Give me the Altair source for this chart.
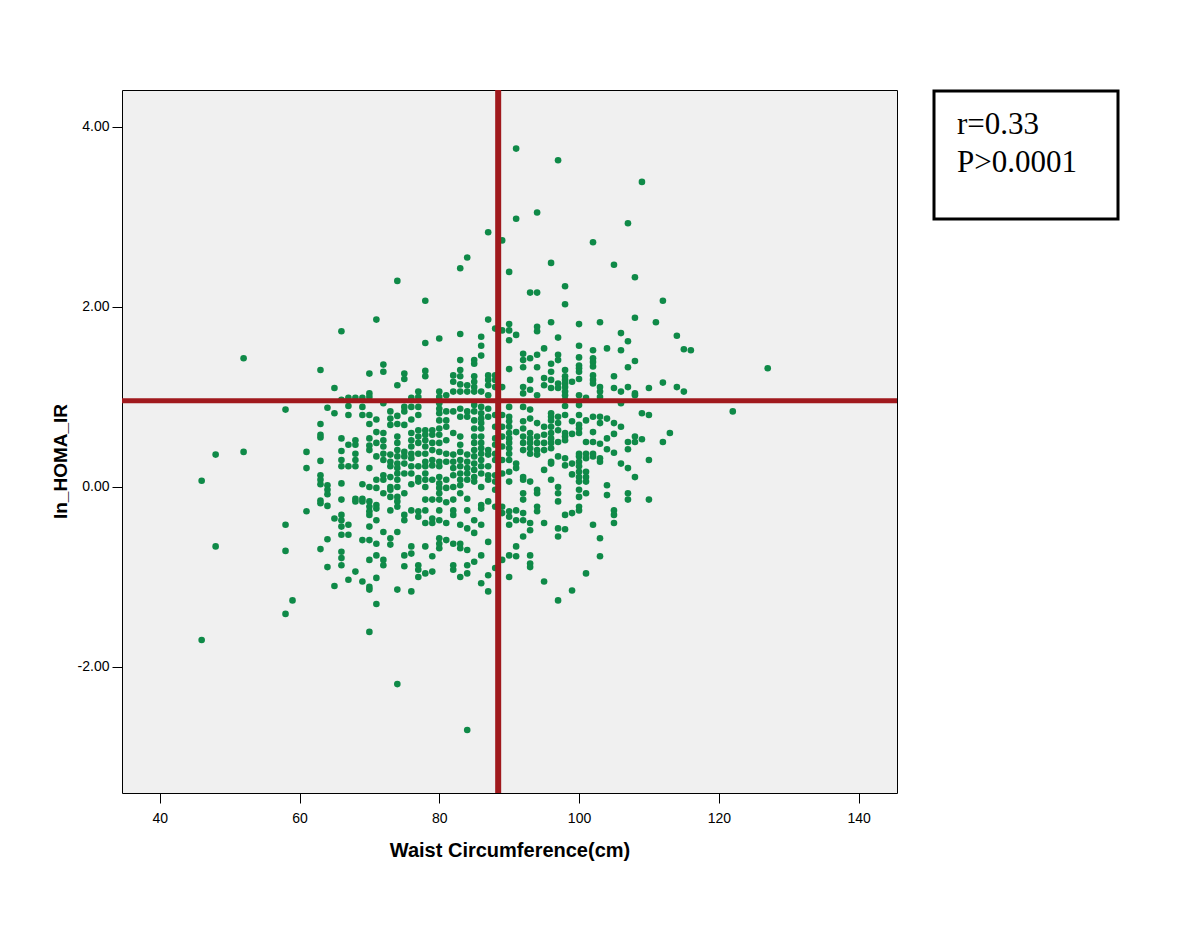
import altair as alt
import pandas as pd

# ---- data: ln_HOMA_IR values read per waist-circumference column (cm) ----
Y46 = [0.07, -1.70]
Y48 = [0.36, -0.66]
Y52 = [1.43, 0.39]
Y58 = [0.86, -0.42, -0.71, -1.41]
Y59 = [-1.26]
Y61 = [0.39, 0.21, -0.27]
Y63 = [1.30, 0.70, 0.58, 0.55, 0.29, 0.13, 0.08, 0.03, -0.15, -0.18, -0.69]
Y64 = [0.88, 0.02, -0.03, -0.08, -0.21, -0.58, -0.89]
Y65 = [1.10, 0.82, -0.35, -1.10]
Y66 = [1.73, 0.97, 0.54, 0.40, 0.30, 0.23, 0.04, -0.14, -0.31, -0.37, -0.44, -0.53, -0.72, -0.79, -0.87]
Y67 = [0.99, 0.90, 0.80, 0.47, 0.23, -0.42, -0.53, -1.03]
Y68 = [0.99, 0.52, 0.47, 0.37, 0.30, 0.23, -0.13, -0.16, -0.94]
Y69 = [0.99, 0.89, 0.80, 0.03, -0.13, -0.16, -0.59, -1.05]
Y70 = [1.26, 1.04, 1.00, 0.80, 0.70, 0.54, 0.46, 0.41, 0.21, 0.00, -0.16, -0.22, -0.27, -0.31, -0.44, -0.59, -0.81, -1.11, -1.14, -1.61]
Y71 = [1.86, 0.75, 0.61, 0.49, 0.34, 0.08, -0.01, -0.20, -0.24, -0.37, -0.63, -0.76, -1.01, -1.30]
Y72 = [1.36, 1.28, 0.93, 0.60, 0.52, 0.45, 0.37, 0.30, 0.13, 0.08, -0.07, -0.50, -0.81, -0.87]
Y73 = [0.84, 0.76, 0.69, 0.36, 0.28, 0.23, 0.11, 0.00, -0.03, -0.11, -0.26, -0.57, -0.64]
Y74 = [2.29, 1.13, 0.79, 0.70, 0.56, 0.49, 0.41, 0.34, 0.26, 0.21, 0.15, 0.08, 0.00, -0.11, -0.16, -0.22, -0.50, -1.14, -2.19]
Y75 = [1.26, 1.20, 0.89, 0.84, 0.69, 0.39, 0.34, 0.26, 0.15, -0.07, -0.31, -0.37, -0.76, -0.88]
Y76 = [0.99, 0.89, 0.75, 0.60, 0.52, 0.45, 0.37, 0.32, 0.23, 0.15, 0.03, -0.26, -0.66, -0.74, -1.16]
Y77 = [1.06, 1.00, 0.89, 0.80, 0.63, 0.56, 0.49, 0.37, 0.23, 0.10, 0.06, -0.27, -0.33, -0.87, -0.92, -1.00]
Y78 = [2.07, 1.60, 1.29, 1.23, 0.63, 0.58, 0.52, 0.45, 0.37, 0.28, 0.23, 0.15, 0.08, 0.00, -0.14, -0.26, -0.40, -0.66, -0.96]
Y79 = [0.63, 0.58, 0.49, 0.41, 0.30, 0.24, 0.08, -0.14, -0.35, -0.40, -0.77, -0.94]
Y80 = [1.65, 1.06, 1.00, 0.93, 0.87, 0.82, 0.74, 0.65, 0.58, 0.49, 0.39, 0.28, 0.23, 0.11, 0.04, -0.01, -0.07, -0.14, -0.26, -0.37, -0.57, -0.63, -0.68]
Y81 = [1.02, 0.84, 0.74, 0.67, 0.52, 0.37, 0.28, 0.08, -0.01, -0.17, -0.40, -0.59]
Y82 = [1.24, 1.17, 1.06, 0.84, 0.60, 0.36, 0.28, 0.21, 0.13, 0.00, -0.14, -0.26, -0.31, -0.63, -0.87, -0.92]
Y83 = [2.43, 1.70, 1.41, 1.30, 1.23, 1.14, 1.06, 0.87, 0.78, 0.56, 0.47, 0.39, 0.30, 0.23, 0.15, 0.08, 0.02, -0.07, -0.42, -0.63, -0.68, -1.00]
Y84 = [2.55, 1.13, 1.06, 0.84, 0.78, 0.36, 0.28, 0.21, 0.15, 0.08, -0.13, -0.26, -0.46, -0.70, -0.87, -0.96, -2.70]
Y85 = [1.41, 1.37, 1.23, 1.17, 1.11, 1.06, 0.91, 0.84, 0.74, 0.65, 0.56, 0.49, 0.41, 0.34, 0.26, 0.19, 0.11, 0.06, -0.37, -0.51, -0.83]
Y86 = [1.67, 1.57, 1.46, 1.06, 0.89, 0.82, 0.76, 0.71, 0.65, 0.56, 0.49, 0.43, 0.37, 0.30, 0.23, 0.15, 0.00, -0.20, -0.24, -0.42, -0.76, -1.07]
Y87 = [2.83, 1.86, 1.24, 1.19, 1.13, 1.02, 0.87, 0.78, 0.41, 0.36, 0.23, 0.13, 0.08, -0.16, -0.61, -0.98, -1.16]
Y88 = [1.76, 1.24, 1.19, 1.11, 0.80, 0.67, 0.54, 0.47, 0.37, 0.30, 0.13, 0.06, -0.03, -0.22, -0.90]
Y89 = [2.74, 1.74, 1.11, 0.80, 0.67, 0.56, 0.45, 0.30, 0.15, -0.22, -0.29, -0.81]
Y90 = [2.39, 1.81, 1.74, 1.63, 1.31, 0.89, 0.78, 0.73, 0.67, 0.60, 0.54, 0.49, 0.43, 0.37, 0.30, 0.17, 0.06, -0.27, -0.33, -0.42, -0.76, -1.00]
Y91 = [3.76, 2.98, 1.69, 0.61, 0.26, 0.21, -0.26, -0.37, -0.66, -0.77]
Y92 = [1.48, 1.41, 1.33, 1.11, 1.04, 0.89, 0.73, 0.65, 0.56, 0.49, 0.41, 0.11, 0.08, -0.07, -0.14, -0.29, -0.37, -0.55]
Y93 = [2.16, 1.43, 1.19, 1.08, 0.86, 0.76, 0.60, 0.54, 0.49, 0.43, 0.37, 0.06, -0.40, -0.48, -0.76, -0.85, -0.89]
Y94 = [3.05, 2.16, 1.78, 1.73, 1.47, 1.33, 1.02, 0.71, 0.56, 0.49, 0.41, 0.36, -0.03, -0.07, -0.22, -0.27]
Y95 = [1.54, 1.21, 1.13, 0.67, 0.58, 0.49, 0.41, 0.19, -0.40, -1.05]
Y96 = [2.49, 1.83, 1.37, 1.28, 1.19, 1.10, 0.82, 0.78, 0.74, 0.67, 0.60, 0.54, 0.49, 0.43, 0.28, 0.26, 0.08]
Y97 = [3.63, 1.66, 1.47, 1.41, 1.15, 1.10, 0.78, 0.71, 0.63, 0.50, 0.34, 0.00, -0.07, -0.16, -0.46, -0.55, -1.26]
Y98 = [2.23, 2.03, 1.30, 1.23, 1.19, 1.15, 1.11, 1.06, 1.02, 0.97, 0.90, 0.80, 0.60, 0.56, 0.52, 0.32, 0.24, -0.31, -0.47]
Y99 = [1.17, 0.73, 0.59, 0.26, 0.14, -0.29, -1.15]
Y100 = [1.81, 1.57, 1.44, 1.35, 1.32, 1.28, 1.20, 1.02, 0.91, 0.80, 0.69, 0.65, 0.60, 0.37, 0.34, 0.28, 0.23, 0.17, 0.11, 0.06, -0.03, -0.11, -0.22, -0.26]
Y101 = [0.99, 0.74, 0.50, 0.37, 0.32, 0.17, 0.11, 0.06, -0.07, -0.96]
Y102 = [2.72, 1.52, 1.43, 1.39, 1.34, 1.24, 1.19, 1.15, 0.78, 0.61, 0.50, 0.37, 0.34, -0.42]
Y103 = [1.83, 1.11, 1.06, 1.00, 0.78, 0.71, 0.48, 0.32, 0.28, -0.57, -0.77]
Y104 = [1.54, 0.76, 0.54, 0.42, 0.02, -0.09]
Y105 = [2.47, 1.23, 1.10, 0.71, 0.59, 0.38, -0.26, -0.31, -0.40]
Y106 = [1.71, 1.52, 1.06, 0.93, 0.67, 0.26]
Y107 = [2.93, 1.62, 1.33, 1.11, 0.50, 0.42, 0.21, -0.07, -0.14]
Y108 = [2.33, 1.88, 1.40, 1.04, 1.02, 0.56, 0.50, 0.11]
Y109 = [3.39, 0.82, 0.53]
Y110 = [1.10, 0.80, 0.30, -0.14]
Y111 = [1.83]
Y112 = [2.07, 1.16, 0.50]
Y113 = [0.60]
Y114 = [1.68, 1.11]
Y115 = [1.53, 1.06]
Y116 = [1.52]
Y122 = [0.84]
Y127 = [1.32]

WAIST_COLUMNS = [
    (46, Y46), (48, Y48), (52, Y52), (58, Y58), (59, Y59), (61, Y61), (63, Y63),
    (64, Y64), (65, Y65), (66, Y66), (67, Y67), (68, Y68), (69, Y69), (70, Y70),
    (71, Y71), (72, Y72), (73, Y73), (74, Y74), (75, Y75), (76, Y76), (77, Y77),
    (78, Y78), (79, Y79), (80, Y80), (81, Y81), (82, Y82), (83, Y83), (84, Y84),
    (85, Y85), (86, Y86), (87, Y87), (88, Y88), (89, Y89), (90, Y90), (91, Y91),
    (92, Y92), (93, Y93), (94, Y94), (95, Y95), (96, Y96), (97, Y97), (98, Y98),
    (99, Y99), (100, Y100), (101, Y101), (102, Y102), (103, Y103), (104, Y104),
    (105, Y105), (106, Y106), (107, Y107), (108, Y108), (109, Y109), (110, Y110),
    (111, Y111), (112, Y112), (113, Y113), (114, Y114), (115, Y115), (116, Y116),
    (122, Y122), (127, Y127),
]

MEAN_WAIST = [88.43]
MEAN_LN_HOMA = [0.959]
X_TICKS = [40, 60, 80, 100, 120, 140]
Y_TICKS = [-2, 0, 2, 4]
STATS_LINES = ["r=0.33", "P>0.0001"]

rows = [{"waist": w, "ln_homa": v} for w, vals in WAIST_COLUMNS for v in vals]
df = pd.DataFrame(rows)

SANS = "Liberation Sans"
GREEN = "#0f8a48"
RED = "#a0191d"

x_scale = alt.Scale(domain=[34.6, 145.5], nice=False, zero=False)
y_scale = alt.Scale(domain=[-3.4, 4.411], nice=False, zero=False)

points = alt.Chart(df).mark_circle(size=44, color=GREEN, opacity=1).encode(
    x=alt.X(
        "waist:Q",
        scale=x_scale,
        axis=alt.Axis(
            values=X_TICKS, format="d", grid=False, domain=False,
            tickColor="black", tickSize=10, labelFontSize=14, labelFont=SANS,
            labelColor="black", labelPadding=8,
            title="Waist Circumference(cm)", titleFont=SANS, titleFontSize=20,
            titleFontWeight="bold", titleColor="black",
            titleY=57, titleBaseline="middle",
        ),
    ),
    y=alt.Y(
        "ln_homa:Q",
        scale=y_scale,
        axis=alt.Axis(
            values=Y_TICKS, grid=False, domain=False,
            labelExpr="datum.value < 0 ? '-' + format(-datum.value, '.2f') : format(datum.value, '.2f')",
            tickColor="black", tickSize=10, labelFontSize=14, labelFont=SANS,
            labelColor="black", labelPadding=3,
            title="ln_HOMA_IR", titleFont=SANS, titleFontSize=19,
            titleFontWeight="bold", titleColor="black",
            titleAngle=270, titleX=-62, titleY=371,
            titleAlign="center", titleBaseline="middle",
        ),
    ),
)

vline = alt.Chart(pd.DataFrame({"w": MEAN_WAIST})).mark_rule(
    color=RED, strokeWidth=6
).encode(x=alt.X("w:Q", scale=x_scale))

hline = alt.Chart(pd.DataFrame({"h": MEAN_LN_HOMA})).mark_rule(
    color=RED, strokeWidth=5
).encode(y=alt.Y("h:Q", scale=y_scale))

ann_df = pd.DataFrame({"label": ["\n".join(STATS_LINES)]})

box = alt.Chart(ann_df).mark_rect(
    fill="white", stroke="black", strokeWidth=3
).encode(
    x=alt.value(812), x2=alt.value(996), y=alt.value(1), y2=alt.value(129)
)

stats = alt.Chart(ann_df).mark_text(
    align="left", baseline="alphabetic", font="Liberation Serif",
    fontSize=31, color="black", lineBreak="\n", lineHeight=38
).encode(
    x=alt.value(835), y=alt.value(44), text="label:N"
)

chart = alt.layer(points, vline, hline, box, stats).properties(
    width=775, height=703,
    autosize=alt.AutoSizeParams(type="none"),
    padding={"left": 114, "top": 82, "right": 260, "bottom": 110},
    background="white",
).configure_view(
    fill="#f0f0f0", stroke="black", strokeWidth=1
)

chart.save("out.html", embed_options={"renderer": "svg", "actions": False})
